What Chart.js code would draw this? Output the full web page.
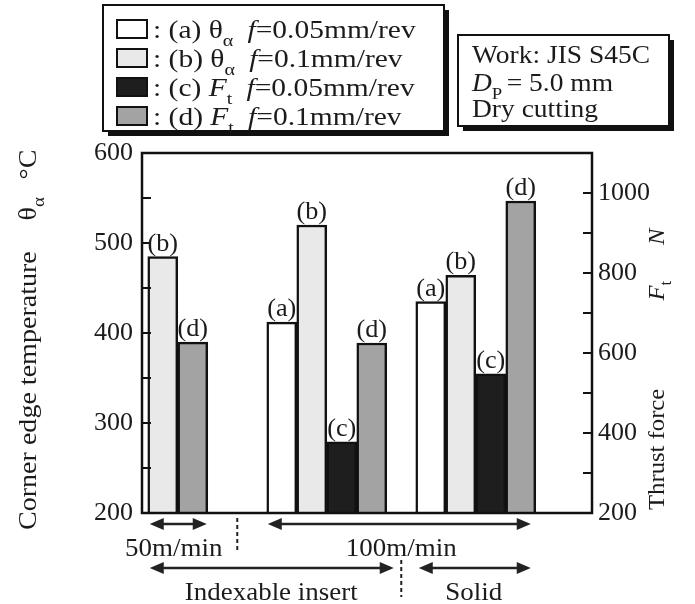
<!DOCTYPE html>
<html><head><meta charset="utf-8">
<script src="https://cdn.jsdelivr.net/npm/chart.js@4.4.1/dist/chart.umd.min.js"></script>
<style>html,body{margin:0;padding:0;background:#fff;overflow:hidden}#wrap{width:695px;height:604px;position:relative}</style>
</head><body><div id="wrap"><canvas id="c" width="695" height="604"></canvas></div>
<script>
// ---- data ----
const groups = ['50m/min Indexable insert', '100m/min Indexable insert', '100m/min Solid'];
const speedLabels = ['50m/min', '100m/min'];
const toolLabels = ['Indexable insert', 'Solid'];
const seriesTags = ['(a)', '(b)', '(c)', '(d)'];
const seriesFeeds = ['0.05', '0.1', '0.05', '0.1'];
const tempFeed005 = [null, 412, 435];   // (a) θα, f=0.05
const tempFeed01 = [485, 520, 464];     // (b) θα, f=0.1
const forceFeed005 = [null, 378, 548];  // (c) Ft, f=0.05
const forceFeed01 = [627, 625, 980];    // (d) Ft, f=0.1
const leftTickLabels = [200, 300, 400, 500, 600];
const rightTickLabels = [200, 400, 600, 800, 1000];
const workLines = ['Work: JIS S45C', '= 5.0 mm', 'Dry cutting'];

const FONT = '"Liberation Serif", "Times New Roman", serif';
const INK = '#1b1b1b';

function fnt(size, it) { return (it ? 'italic ' : '') + size + 'px ' + FONT; }
function runsWidth(ctx, runs, size, hs) {
  let w = 0;
  for (const r of runs) { ctx.font = fnt(r.sub ? size * 0.68 : size, r.it); w += ctx.measureText(r.t).width + (r.gap || 0); }
  return w * hs;
}
function drawRuns(ctx, runs, x, y, size, hs) {
  ctx.save(); ctx.translate(x, y); ctx.scale(hs, 1);
  ctx.textBaseline = 'alphabetic'; ctx.textAlign = 'left';
  let cx = 0;
  for (const r of runs) {
    const s = r.sub ? size * 0.68 : size;
    ctx.font = fnt(s, r.it);
    ctx.fillText(r.t, cx, r.sub ? size * 0.3 : 0);
    cx += ctx.measureText(r.t).width + (r.gap || 0);
  }
  ctx.restore();
  return cx * hs;
}
function shadowBox(ctx, x, y, w, h) {
  ctx.save();
  ctx.fillStyle = '#111'; ctx.fillRect(x + 5, y + 5, w, h);
  ctx.fillStyle = '#fff'; ctx.fillRect(x, y, w, h);
  ctx.strokeStyle = '#111'; ctx.lineWidth = 2; ctx.strokeRect(x, y, w, h);
  ctx.restore();
}
function arrow(ctx, x1, x2, y) {
  const hl = 14, hw = 6;
  ctx.beginPath(); ctx.moveTo(x1 + hl - 2, y); ctx.lineTo(x2 - hl + 2, y); ctx.stroke();
  ctx.beginPath(); ctx.moveTo(x1, y); ctx.lineTo(x1 + hl, y - hw); ctx.lineTo(x1 + hl, y + hw); ctx.closePath(); ctx.fill();
  ctx.beginPath(); ctx.moveTo(x2, y); ctx.lineTo(x2 - hl, y - hw); ctx.lineTo(x2 - hl, y + hw); ctx.closePath(); ctx.fill();
}

const fills = ['#ffffff', '#e9e9e9', '#1e1e1e', '#a3a3a3'];
const seriesValues = [tempFeed005, tempFeed01, forceFeed005, forceFeed01];
const axisOf = ['y', 'y', 'y1', 'y1'];

const datasets = seriesValues.map((vals, k) => ({
  label: seriesTags[k],
  data: vals.map((v, i) => ({ x: i, y: v })),
  yAxisID: axisOf[k],
  backgroundColor: fills[k],
  borderColor: '#111',
  borderWidth: 2.5,
  borderSkipped: 'start',
  barThickness: 30,
  skipNull: true
}));

const decor = {
  id: 'decor',
  afterDatasetsDraw(chart) {
    const ctx = chart.ctx, a = chart.chartArea;
    const ys = chart.scales.y, y1 = chart.scales.y1;
    ctx.save();
    // frame
    ctx.strokeStyle = '#111'; ctx.lineWidth = 2.5;
    ctx.strokeRect(a.left, a.top, a.right - a.left, a.bottom - a.top);
    // inward ticks
    ctx.lineWidth = 2;
    ys.ticks.forEach(t => {
      const p = ys.getPixelForValue(t.value);
      if (p <= a.top + 2 || p >= a.bottom - 2) return;
      ctx.beginPath(); ctx.moveTo(a.left, p); ctx.lineTo(a.left + 9, p); ctx.stroke();
    });
    y1.ticks.forEach(t => {
      const p = y1.getPixelForValue(t.value);
      if (p <= a.top + 2 || p >= a.bottom - 2) return;
      ctx.beginPath(); ctx.moveTo(a.right, p); ctx.lineTo(a.right - 9, p); ctx.stroke();
    });
    // bar labels
    ctx.fillStyle = INK;
    const ext = groups.map(() => ({ l: Infinity, r: -Infinity }));
    chart.data.datasets.forEach((ds, k) => {
      const meta = chart.getDatasetMeta(k);
      meta.data.forEach((el, i) => {
        const v = ds.data[i].y;
        if (v === null || v === undefined) return;
        ext[i].l = Math.min(ext[i].l, el.x - el.width / 2);
        ext[i].r = Math.max(ext[i].r, el.x + el.width / 2);
        ctx.save(); ctx.font = fnt(25); ctx.textAlign = 'center'; ctx.textBaseline = 'alphabetic';
        ctx.translate(el.x, el.y - 6); ctx.scale(1.05, 1);
        ctx.fillText(ds.label, 0, 0);
        ctx.restore();
      });
    });
    // bottom annotations
    ctx.strokeStyle = '#222'; ctx.fillStyle = '#222'; ctx.lineWidth = 2.5;
    const r1 = a.bottom + 11, r2 = a.bottom + 55;
    arrow(ctx, ext[0].l + 2, ext[0].r - 1, r1);
    arrow(ctx, ext[1].l + 1, ext[2].r - 5, r1);
    arrow(ctx, ext[0].l + 2, ext[1].r + 7, r2);
    arrow(ctx, ext[2].l + 3, ext[2].r - 5, r2);
    ctx.setLineDash([4, 3]); ctx.lineWidth = 2;
    const d1 = (ext[0].r + ext[1].l) / 2, d2 = (ext[1].r + ext[2].l) / 2;
    ctx.beginPath(); ctx.moveTo(d1, a.bottom + 5); ctx.lineTo(d1, a.bottom + 37); ctx.stroke();
    ctx.beginPath(); ctx.moveTo(d2, a.bottom + 47); ctx.lineTo(d2, a.bottom + 84); ctx.stroke();
    ctx.setLineDash([]);
    ctx.fillStyle = INK;
    const ctr = (runs, cx, y, s) => drawRuns(ctx, runs, cx - runsWidth(ctx, runs, s, 1.1) / 2, y, s, 1.1);
    ctr([{ t: speedLabels[0] }], (ext[0].l + ext[0].r) / 2 - 4, a.bottom + 43, 24.5);
    ctr([{ t: speedLabels[1] }], (ext[1].l + ext[2].r) / 2, a.bottom + 43, 24.5);
    ctr([{ t: toolLabels[0] }], (ext[0].l + ext[1].r) / 2 + 4, a.bottom + 87, 24.5);
    ctr([{ t: toolLabels[1] }], (ext[2].l + ext[2].r) / 2 - 2, a.bottom + 87, 24.5);

    // legend box
    shadowBox(ctx, 103, 5, 341, 126);
    chart.data.datasets.forEach((ds, k) => {
      const cy = 29 + k * 29;
      ctx.fillStyle = ds.backgroundColor; ctx.fillRect(117, cy - 9, 30, 18);
      ctx.strokeStyle = '#111'; ctx.lineWidth = 2; ctx.strokeRect(117, cy - 9, 30, 18);
      ctx.fillStyle = INK;
      const isT = ds.yAxisID === 'y';
      const runs = [{ t: ': ' + ds.label + ' ' }];
      if (isT) runs.push({ t: 'θ' }, { t: 'α', sub: true, gap: 12 });
      else runs.push({ t: 'F', it: true }, { t: 't', sub: true, gap: 12 });
      runs.push({ t: 'f', it: true }, { t: '=' + seriesFeeds[k] + 'mm/rev' });
      drawRuns(ctx, runs, 153, cy + 9, 25, 1.18);
    });
    // work box
    shadowBox(ctx, 458, 35, 211, 91);
    ctx.fillStyle = INK;
    drawRuns(ctx, [{ t: workLines[0] }], 472, 63, 25, 1.1);
    drawRuns(ctx, [{ t: 'D', it: true }, { t: 'P', sub: true, gap: 4 }, { t: workLines[1] }], 472, 91, 25, 1.1);
    drawRuns(ctx, [{ t: workLines[2] }], 472, 117, 25, 1.1);

    // left title (reads bottom to top)
    ctx.save(); ctx.translate(36, 530); ctx.rotate(-Math.PI / 2);
    drawRuns(ctx, [{ t: 'Corner edge temperature', gap: 28 }, { t: 'θ' }, { t: 'α', sub: true, gap: 16 }, { t: '°C' }], 0, 0, 25.5, 1.1);
    ctx.restore();
    // right title
    ctx.save(); ctx.translate(664, 510); ctx.rotate(-Math.PI / 2);
    drawRuns(ctx, [{ t: 'Thrust force', gap: 84 }, { t: 'F', it: true }, { t: 't', sub: true, gap: 34 }, { t: 'N', it: true }], 0, 0, 23.5, 1.05);
    ctx.restore();
    ctx.restore();
  }
};

new Chart(document.getElementById('c'), {
  type: 'bar',
  data: { datasets },
  plugins: [decor],
  options: {
    responsive: false,
    animation: false,
    layout: { padding: { left: 85, right: 43, top: 153, bottom: 91 } },
    plugins: { legend: { display: false }, tooltip: { enabled: false } },
    scales: {
      x: { type: 'linear', offset: false, min: -0.24, max: 2.78, display: false, grid: { display: false, offset: false } },
      y: {
        position: 'left', min: 200, max: 600,
        afterFit: s => { s.width = 57; },
        grid: { display: false, drawTicks: false }, border: { display: false },
        ticks: { stepSize: 50, padding: 9, color: INK, font: { family: FONT, size: 26 },
          callback: v => leftTickLabels.includes(v) ? String(v) : '' }
      },
      y1: {
        position: 'right', min: 200, max: 1100,
        afterFit: s => { s.width = 60; },
        grid: { display: false, drawTicks: false }, border: { display: false },
        ticks: { stepSize: 100, padding: 6, color: INK, font: { family: FONT, size: 26 },
          callback: v => rightTickLabels.includes(v) ? String(v) : '' }
      }
    }
  }
});
</script></body></html>
